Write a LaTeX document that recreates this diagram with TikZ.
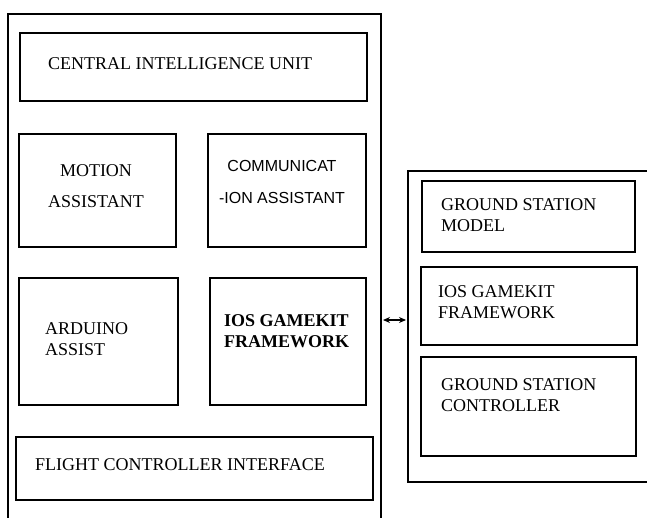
\documentclass[tikz,border=0pt]{standalone}
\usepackage{fontspec}
\usetikzlibrary{arrows.meta}
\setmainfont{Liberation Serif}
\newfontfamily\armfont{Liberation Sans}
\tikzset{
  blk/.style={line width=2.4pt},
  outer/.style={line width=1.8pt},
  lbl/.style={inner sep=0pt, anchor=north west, align=left, font=\fontsize{18}{21}\selectfont},
}
\begin{document}
\begin{tikzpicture}[x=1pt,y=-1pt,>={Stealth[length=7pt,width=6pt]}]
  \useasboundingbox (0,0) rectangle (647,518);
  % 外枠
  \draw[outer] (8,519) -- (8,14) -- (381,14) -- (381,519);
  \draw[outer] (648,171) -- (408,171) -- (408,482) -- (648,482);

  % 左側のブロック
  \draw[blk] (20,33) rectangle (367,101);
  \node[lbl] (ciu) at (48,57) {CENTRAL INTELLIGENCE UNIT};

  \draw[blk] (19,134) rectangle (176,247);
  \node[lbl, align=center, anchor=north] (motion) at (96,164) {MOTION\\[10pt]ASSISTANT};

  \draw[blk] (208,134) rectangle (366,247);
  \node[lbl, align=center, anchor=north, font=\armfont\fontsize{16}{21}\selectfont] (comm) at (282,160) {COMMUNICAT\\[11pt]-ION ASSISTANT};

  \draw[blk] (19,278) rectangle (178,405);
  \node[lbl] (ard) at (45,322) {ARDUINO\\ASSIST};

  \draw[blk] (210,278) rectangle (366,405);
  \node[lbl, font=\bfseries\fontsize{18}{21}\selectfont] (gamekit) at (224,314) {IOS GAMEKIT\\FRAMEWORK};

  \draw[blk] (16,437) rectangle (373,500);
  \node[lbl] (fci) at (35,458) {FLIGHT CONTROLLER INTERFACE};

  % 右側のブロック
  \draw[blk] (422,181) rectangle (635,252);
  \node[lbl] (gsm) at (441,198) {GROUND STATION\\MODEL};

  \draw[blk] (421,267) rectangle (637,345);
  \node[lbl] (gkr) at (438,285) {IOS GAMEKIT\\FRAMEWORK};

  \draw[blk] (421,357) rectangle (636,456);
  \node[lbl] (gsc) at (441,378) {GROUND STATION\\CONTROLLER};

  % 接続
  \coordinate (lft) at (383,320);
  \coordinate (rgt) at (406,320);
  \draw[<->, line width=1.4pt] (lft) -- (rgt);
\end{tikzpicture}
\end{document}
